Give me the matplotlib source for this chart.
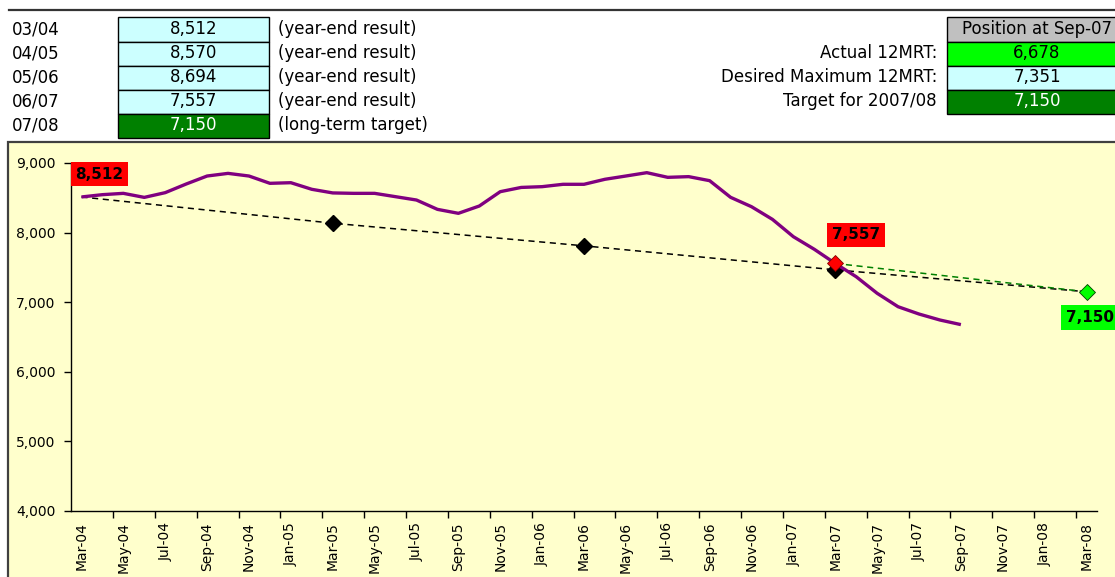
import numpy as np
import pandas as pd
import matplotlib
matplotlib.use("Agg")
import matplotlib.pyplot as plt
from matplotlib.patches import Rectangle
from matplotlib.lines import Line2D

W, H = 1115, 577

# category axis: one point per month, Mar-04 .. Mar-08
months = pd.date_range("2004-03-01", "2008-03-01", freq="MS").strftime("%b-%y").tolist()

# actual 12 month rolling total, Mar-04 .. Sep-07
actual_12mrt = [8512, 8545, 8564, 8506, 8574, 8698, 8813, 8851, 8813, 8708, 8717, 8622,
                8570, 8564, 8564, 8516, 8468, 8334, 8277, 8382, 8588, 8649, 8660, 8694,
                8694, 8766, 8813, 8861, 8794, 8804, 8746, 8507, 8372, 8190, 7941, 7760,
                7557, 7366, 7128, 6935, 6830, 6744, 6678]

# desired maximum trajectory (year ends)
desired_months = ["Mar-04", "Mar-05", "Mar-06", "Mar-07", "Mar-08"]
desired_values = [8512, 8135, 7810, 7465, 7150]

# last year-end result -> long-term target
target_months = ["Mar-07", "Mar-08"]
target_values = [7557, 7150]

# header tables
year_labels = ["03/04", "04/05", "05/06", "06/07", "07/08"]
year_values = [8512, 8570, 8694, 7557, 7150]
year_notes = ["(year-end result)"] * 4 + ["(long-term target)"]

position_title = "Position at Sep-07"
position_labels = ["Actual 12MRT:", "Desired Maximum 12MRT:", "Target for 2007/08"]
position_values = [6678, 7351, 7150]

plt.rcParams["font.family"] = ["DejaVu Sans"]


def fx(x):
    return x / W


def fy(y):
    return 1 - y / H


def cell(fig, x0, y0, x1, y1, fc):
    fig.add_artist(Rectangle((fx(x0), fy(y1)), fx(x1) - fx(x0), fy(y0) - fy(y1),
                             transform=fig.transFigure, fc=fc, ec="black", lw=1, zorder=2))


fig = plt.figure(figsize=(W / 100, H / 100), dpi=100)
fig.patch.set_facecolor("white")

# header rule
fig.add_artist(Line2D([fx(9), 1], [fy(10), fy(10)], transform=fig.transFigure,
                      color="#333333", lw=1.6))

# left table
row_h = 24
top = 17.5
for i, (lab, val, note) in enumerate(zip(year_labels, year_values, year_notes)):
    y0 = top + i * row_h
    yc = y0 + row_h / 2
    last = i == len(year_labels) - 1
    cell(fig, 118, y0, 269, y0 + row_h, "#008000" if last else "#CCFFFF")
    fig.text(fx(12), fy(yc), lab, fontsize=12, va="center", ha="left")
    fig.text(fx(193.5), fy(yc), f"{val:,}", fontsize=12, va="center", ha="center",
             color="white" if last else "black", zorder=3)
    fig.text(fx(278), fy(yc), note, fontsize=12, va="center", ha="left")

# right table
pos_colors = ["#00FF00", "#CCFFFF", "#008000"]
cell(fig, 947, top, 1127, top + row_h, "#C0C0C0")
fig.text(fx(1037), fy(top + row_h / 2), position_title, fontsize=12, va="center",
         ha="center", zorder=3)
for i, (lab, val) in enumerate(zip(position_labels, position_values)):
    y0 = top + (i + 1) * row_h
    yc = y0 + row_h / 2
    cell(fig, 947, y0, 1127, y0 + row_h, pos_colors[i])
    fig.text(fx(937), fy(yc), lab, fontsize=12, va="center", ha="right")
    fig.text(fx(1037), fy(yc), f"{val:,}", fontsize=12, va="center", ha="center",
             color="white" if i == 2 else "black", zorder=3)

# chart area
fig.add_artist(Rectangle((fx(8), -0.02), 1.0, fy(142) + 0.02, transform=fig.transFigure,
                         fc="#FFFFCC", ec="#404040", lw=1.6, zorder=0))

ax = fig.add_axes([fx(71), fy(511), fx(1097) - fx(71), fy(163) - fy(511)])
ax.set_facecolor("none")

idx = {m: i for i, m in enumerate(months)}
x_actual = np.arange(len(actual_12mrt))
x_desired = [idx[m] for m in desired_months]
x_target = [idx[m] for m in target_months]

ax.plot(x_desired, desired_values, color="black", lw=1.1, ls=(0, (4, 3)), zorder=2)
ax.plot(x_desired[1:-1], desired_values[1:-1], ls="none", marker="D", ms=8,
        mfc="black", mec="black", zorder=2)
ax.plot(x_actual, actual_12mrt, color="#800080", lw=2.4, solid_joinstyle="round",
        solid_capstyle="butt", zorder=3)
ax.plot(x_target, target_values, color="#008000", lw=1.1, ls=(0, (4, 3)), zorder=4)
ax.plot(x_target[:1], target_values[:1], ls="none", marker="D", ms=8,
        mfc="#FF0000", mec="#800000", mew=0.6, zorder=5)
ax.plot(x_target[1:], target_values[1:], ls="none", marker="D", ms=8,
        mfc="#00FF00", mec="#004000", mew=0.6, zorder=5)

lab_kw = dict(textcoords="offset points", ha="center", va="center", fontsize=11,
              fontweight="bold", zorder=6)
ax.annotate(f"{actual_12mrt[0]:,}", (0, actual_12mrt[0]), xytext=(13, 16.5),
            bbox=dict(boxstyle="square,pad=0.3", fc="#FF0000", ec="none"), **lab_kw)
ax.annotate(f"{target_values[0]:,}", (x_target[0], target_values[0]), xytext=(15, 20.5),
            bbox=dict(boxstyle="square,pad=0.3", fc="#FF0000", ec="none"), **lab_kw)
ax.annotate(f"{target_values[1]:,}", (x_target[1], target_values[1]), xytext=(2.5, -18.5),
            bbox=dict(boxstyle="square,pad=0.3", fc="#00FF00", ec="none"), **lab_kw)

ax.set_xlim(-0.5, len(months) - 0.5)
ax.set_ylim(4000, 9000)
ax.set_yticks(np.arange(4000, 9001, 1000))
ax.yaxis.set_major_formatter(plt.FuncFormatter(lambda v, p: f"{v:,.0f}"))
ax.tick_params(axis="y", length=5, width=1, pad=6, labelsize=10, colors="black")

ax.set_xticks(range(0, len(months), 2), months[::2], rotation=90)
ax.set_xticks(np.arange(1.5, len(months) - 1, 2), minor=True)
ax.tick_params(axis="x", which="major", length=0, pad=8, labelsize=10)
ax.tick_params(axis="x", which="minor", length=5, width=1)

for s in ("top", "right"):
    ax.spines[s].set_visible(False)
for s in ("left", "bottom"):
    ax.spines[s].set_linewidth(1)
    ax.spines[s].set_color("black")

fig.savefig("out.png", dpi=100)
